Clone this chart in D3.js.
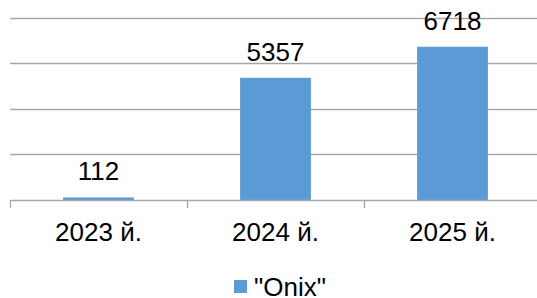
<!DOCTYPE html>
<html>
<head>
<meta charset="utf-8">
<script src="https://cdn.jsdelivr.net/npm/d3@7"></script>
<style>
  body { margin: 0; background: #fff; }
  text { font-family: "Liberation Sans", Arial, sans-serif; fill: #000; }
</style>
</head>
<body>
<div id="chart"></div>
<script>
const years = ["2023 й.", "2024 й.", "2025 й."];
const values = [112, 5357, 6718];
const seriesName = '"Onix"';
const yTicks = [0, 2000, 4000, 6000, 8000];

const W = 537, H = 298;
const plot = {left: 10, right: 541, top: 17.5, bottom: 200};

const svg = d3.select("#chart").append("svg")
    .attr("width", W)
    .attr("height", H);

const x = d3.scaleBand()
    .domain(years)
    .range([plot.left, plot.right])
    .paddingInner(0.6)
    .paddingOuter(0.3);

const y = d3.scaleLinear()
    .domain([0, 8000])
    .range([plot.bottom, plot.top]);

// gridlines
svg.append("g")
  .selectAll("line")
  .data(yTicks.slice(1))
  .join("line")
    .attr("x1", plot.left)
    .attr("x2", plot.right)
    .attr("y1", d => Math.round(y(d)) + 0.5)
    .attr("y2", d => Math.round(y(d)) + 0.5)
    .attr("stroke", "#a6a6a6")
    .attr("stroke-width", 1.3);

// bars
svg.append("g")
  .selectAll("rect")
  .data(values)
  .join("rect")
    .attr("x", (d, i) => x(years[i]))
    .attr("y", d => y(d))
    .attr("width", x.bandwidth())
    .attr("height", d => plot.bottom - y(d))
    .attr("fill", "#5b9bd5");

// x axis
const step = x.step();
svg.append("line")
    .attr("x1", plot.left)
    .attr("x2", plot.right)
    .attr("y1", plot.bottom + 0.5)
    .attr("y2", plot.bottom + 0.5)
    .attr("stroke", "#a6a6a6")
    .attr("stroke-width", 1.3);

svg.append("g")
  .selectAll("line")
  .data(d3.range(years.length + 1))
  .join("line")
    .attr("x1", i => Math.round(plot.left + i * step) + 0.5)
    .attr("x2", i => Math.round(plot.left + i * step) + 0.5)
    .attr("y1", plot.bottom)
    .attr("y2", plot.bottom + 8)
    .attr("stroke", "#a6a6a6")
    .attr("stroke-width", 1.3);

svg.append("g")
  .selectAll("text")
  .data(years)
  .join("text")
    .attr("x", d => x(d) + x.bandwidth() / 2)
    .attr("y", 241)
    .attr("text-anchor", "middle")
    .style("font-size", "26px")
    .text(d => d);

// value labels
svg.append("g")
  .selectAll("text")
  .data(values)
  .join("text")
    .attr("x", (d, i) => x(years[i]) + x.bandwidth() / 2)
    .attr("y", d => y(d) - 17)
    .attr("text-anchor", "middle")
    .style("font-size", "26px")
    .text(d => d);

// legend
const legend = svg.append("g").attr("transform", "translate(234,280)");
legend.append("rect")
    .attr("width", 13)
    .attr("height", 13)
    .attr("fill", "#5b9bd5");
legend.append("text")
    .attr("x", 20)
    .attr("y", 16)
    .style("font-size", "26px")
    .text(seriesName);
</script>
</body>
</html>
